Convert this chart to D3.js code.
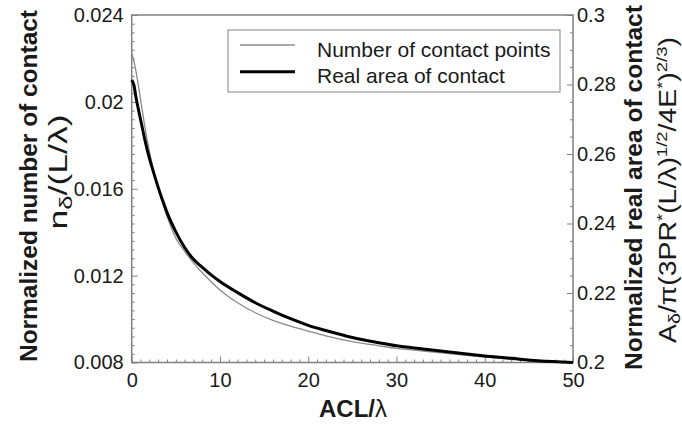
<!DOCTYPE html>
<html>
<head>
<meta charset="utf-8">
<script src="https://cdn.jsdelivr.net/npm/d3@7"></script>
<style>
  body { margin: 0; background: #fff; }
  text { font-family: "Liberation Sans", Arial, sans-serif; fill: #1a1a1a; }
</style>
</head>
<body>
<svg id="chart" width="682" height="425"></svg>
<script>
// ACL/lambda sample positions
const acl = [0, 0.25, 0.5, 1, 1.5, 2, 2.5, 3, 3.5, 4, 5, 6, 7, 8, 9, 10, 12, 14, 16, 18, 20, 22, 25, 28, 30, 33, 36, 40, 43, 46, 50];
// Normalized number of contact points (left axis)
const contactPoints = [0.02225, 0.02188, 0.02137, 0.02013, 0.01884, 0.01773, 0.01681, 0.01598, 0.01533, 0.01473,
  0.01372, 0.01312, 0.01259, 0.01213, 0.01172, 0.01134, 0.01075, 0.01029, 0.00994, 0.00967,
  0.00945, 0.00923, 0.00896, 0.00877, 0.00865, 0.00853, 0.00841, 0.00825, 0.00815, 0.00806, 0.0080];
// Normalized real area of contact (right axis)
const realArea = [0.2813, 0.2798, 0.2761, 0.2700, 0.2640, 0.2588, 0.2545, 0.2504, 0.2467, 0.2432,
  0.2376, 0.2331, 0.2297, 0.2274, 0.2252, 0.2233, 0.2201, 0.2172, 0.2148, 0.2126,
  0.2107, 0.2092, 0.2072, 0.2057, 0.2048, 0.2039, 0.2030, 0.2019, 0.2012, 0.2005, 0.2000];

const seriesNames = ["Number of contact points", "Real area of contact"];
const xTicks = [0, 10, 20, 30, 40, 50];
const leftTicks = [0.008, 0.012, 0.016, 0.02, 0.024];
const leftTickLabels = ["0.008", "0.012", "0.016", "0.02", "0.024"];
const rightTicks = [0.2, 0.22, 0.24, 0.26, 0.28, 0.3];
const rightTickLabels = ["0.2", "0.22", "0.24", "0.26", "0.28", "0.3"];

const svg = d3.select("#chart");
const plot = { left: 131.7, right: 573, top: 15, bottom: 362.5 };

const x = d3.scaleLinear().domain([0, 50]).range([plot.left, plot.right]);
const yL = d3.scaleLinear().domain([0.008, 0.024]).range([plot.bottom, plot.top]);
const yR = d3.scaleLinear().domain([0.2, 0.3]).range([plot.bottom, plot.top]);

const axisColor = "#808080";

function styleAxis(g) {
  g.select(".domain").remove();
  g.selectAll(".tick line").attr("stroke", axisColor).attr("stroke-width", 1);
  g.selectAll(".tick text").style("font-size", "20px").attr("fill", "#1a1a1a");
}

// minor ticks
const xMinor = d3.range(0, 51, 1).filter(v => v % 10 !== 0);
const lMinor = d3.range(0, 41).map(i => 0.008 + i * 0.0004).filter((v, i) => i % 10 !== 0);
const rMinor = d3.range(0, 21).map(i => 0.2 + i * 0.005).filter((v, i) => i % 4 !== 0);

svg.append("g").attr("transform", `translate(0,${plot.bottom})`)
  .call(d3.axisBottom(x).tickValues(xMinor).tickSize(-3).tickFormat(""))
  .call(styleAxis);
svg.append("g").attr("transform", `translate(${plot.left},0)`)
  .call(d3.axisLeft(yL).tickValues(lMinor).tickSize(-3).tickFormat(""))
  .call(styleAxis);
svg.append("g").attr("transform", `translate(${plot.right},0)`)
  .call(d3.axisRight(yR).tickValues(rMinor).tickSize(-3).tickFormat(""))
  .call(styleAxis);

// major ticks with labels
svg.append("g").attr("transform", `translate(0,${plot.bottom})`)
  .call(d3.axisBottom(x).tickValues(xTicks).tickSize(-6).tickPadding(10).tickFormat(d3.format("d")))
  .call(styleAxis)
  .call(g => g.selectAll(".tick text").attr("dy", "0.72em"));
svg.append("g").attr("transform", `translate(${plot.left},0)`)
  .call(d3.axisLeft(yL).tickValues(leftTicks).tickSize(-6).tickPadding(8)
    .tickFormat((d, i) => leftTickLabels[i]))
  .call(styleAxis);
svg.append("g").attr("transform", `translate(${plot.right},0)`)
  .call(d3.axisRight(yR).tickValues(rightTicks).tickSize(-6).tickPadding(4)
    .tickFormat((d, i) => rightTickLabels[i]))
  .call(styleAxis);

// plot frame
svg.append("rect")
  .attr("x", plot.left).attr("y", plot.top)
  .attr("width", plot.right - plot.left).attr("height", plot.bottom - plot.top)
  .attr("fill", "none").attr("stroke", axisColor).attr("stroke-width", 1.5);

// curves
const lineL = d3.line().x((d, i) => x(acl[i])).y(d => yL(d)).curve(d3.curveMonotoneX);
const lineR = d3.line().x((d, i) => x(acl[i])).y(d => yR(d)).curve(d3.curveMonotoneX);

svg.append("path").datum(contactPoints)
  .attr("d", lineL).attr("fill", "none").attr("stroke", "#8a8a8a").attr("stroke-width", 1.3);
svg.append("path").datum(realArea)
  .attr("d", lineR).attr("fill", "none").attr("stroke", "#000").attr("stroke-width", 3);

// legend
const legend = svg.append("g");
legend.append("rect").attr("x", 228).attr("y", 30).attr("width", 332).attr("height", 62)
  .attr("fill", "#fff").attr("stroke", "#999").attr("stroke-width", 1.2);
const legendStyles = [{ stroke: "#8a8a8a", w: 1.3 }, { stroke: "#000", w: 3 }];
seriesNames.forEach((name, i) => {
  const ly = 45 + i * 26.7;
  legend.append("line").attr("x1", 240).attr("x2", 295).attr("y1", ly).attr("y2", ly)
    .attr("stroke", legendStyles[i].stroke).attr("stroke-width", legendStyles[i].w);
  legend.append("text").attr("x", 317).attr("y", ly + 11.7)
    .style("font-size", "21px").text(name);
});

// x-axis title
const xt = svg.append("text").attr("x", 353).attr("y", 417).attr("text-anchor", "middle")
  .style("font-size", "24px").style("font-weight", "bold");
xt.append("tspan").text("ACL/");
xt.append("tspan").style("font-weight", "normal").text("λ");

// left axis title
svg.append("text").attr("transform", "translate(37,186) rotate(-90)")
  .attr("text-anchor", "middle").style("font-size", "24px").style("font-weight", "bold")
  .attr("textLength", 352).attr("lengthAdjust", "spacingAndGlyphs")
  .text("Normalized number of contact");

const l2 = svg.append("text").attr("transform", "translate(67,172) rotate(-90)")
  .attr("text-anchor", "middle").style("font-size", "25px")
  .attr("textLength", 115).attr("lengthAdjust", "spacingAndGlyphs");
l2.append("tspan").text("n");
l2.append("tspan").attr("dy", 5).style("font-size", "18px").text("δ");
l2.append("tspan").attr("dy", -5).text("/(L/λ)");

// right axis title
svg.append("text").attr("transform", "translate(642,187.5) rotate(-90)")
  .attr("text-anchor", "middle").style("font-size", "24px").style("font-weight", "bold")
  .attr("textLength", 365).attr("lengthAdjust", "spacingAndGlyphs")
  .text("Normalized real area of contact");

const r2 = svg.append("text").attr("transform", "translate(676,190) rotate(-90)")
  .attr("text-anchor", "middle").style("font-size", "23px")
  .attr("textLength", 306).attr("lengthAdjust", "spacingAndGlyphs");
const parts = [
  ["A", 0, null], ["δ", 4, 16], ["/π(3PR", -4, null], ["*", -9, 15], ["(L/λ)", 9, null],
  ["1/2", -9, 15], ["/4E", 9, null], ["*", -9, 15], [")", 9, null], ["2/3", -9, 15], [")", 9, null]
];
parts.forEach(([t, dy, fs]) => {
  const s = r2.append("tspan").attr("dy", dy).text(t);
  if (fs) s.style("font-size", fs + "px");
});
</script>
</body>
</html>
